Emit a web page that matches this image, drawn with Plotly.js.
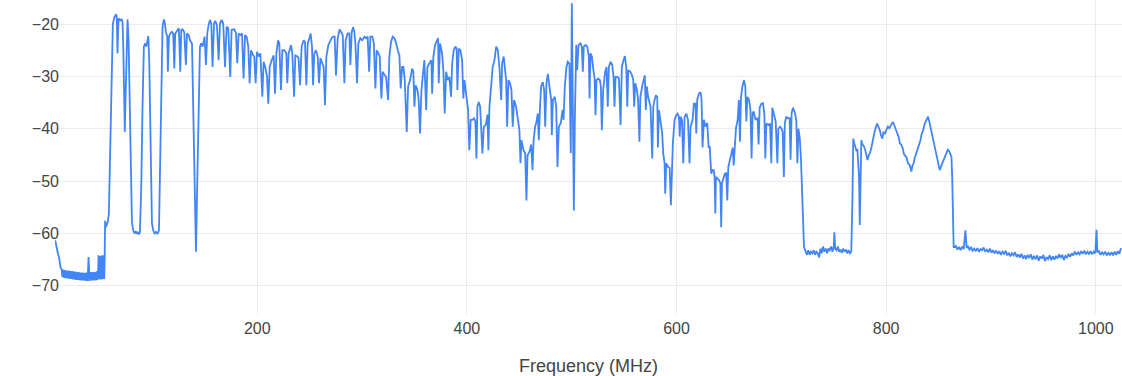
<!DOCTYPE html>
<html>
<head>
<meta charset="utf-8">
<script src="https://cdn.plot.ly/plotly-3.0.1.min.js"></script>
<style>html,body{margin:0;padding:0;background:#fff;}#chart{width:1122px;height:376px;}</style>
</head>
<body>
<div id="chart"></div>
<script>
// Spectrum readings: [frequency MHz, power dB]
const noiseFloorLow = [
[7.2,-61.3],[8.4,-62.9],[9.7,-63.8],[11.0,-64.7],[12.2,-66.4],[13.5,-67.0],
[14.0,-68.3],[14.5,-66.9],[15.0,-68.4],[15.5,-67.0],[16.0,-68.5],[16.5,-67.0],[17.0,-68.4],[17.5,-67.1],
[18.0,-68.6],[18.5,-67.1],[19.0,-68.5],[19.5,-67.2],[20.0,-68.6],[20.5,-67.1],[21.0,-68.7],[21.5,-67.2],
[22.0,-68.6],[22.5,-67.3],[23.0,-68.7],[23.5,-67.2],[24.0,-68.8],[24.5,-67.3],[25.0,-68.7],[25.5,-67.4],
[26.0,-68.8],[26.5,-67.3],[27.0,-68.9],[27.5,-67.4],[28.0,-68.8],[28.5,-67.5],[29.0,-68.9],[29.5,-67.4],
[30.0,-68.9],[30.5,-67.5],[31.0,-69.0],[31.5,-67.5],[32.0,-68.9],[32.5,-67.6],[33.0,-69.0],[33.5,-67.5],
[34.0,-69.0],[34.5,-67.6],[35.0,-68.9],[35.5,-67.6],[36.0,-69.1],[36.5,-67.5],[37.0,-69.0],[37.5,-67.6],
[38.0,-69.1],[38.5,-67.2],[39.0,-64.5],[39.5,-66.8],[40.0,-69.1],[40.5,-67.4],[41.0,-68.9],[41.5,-67.5],
[42.0,-69.0],[42.5,-67.4],[43.0,-68.9],[43.5,-67.5],[44.0,-69.0],[44.5,-67.4],[45.0,-68.9],[45.5,-67.5],
[46.0,-69.0],[46.5,-67.3],[47.0,-68.9],[47.5,-67.2],[48.0,-68.8],[48.5,-64.2],[49.0,-68.7],[49.5,-64.4],
[50.0,-68.8],[50.5,-64.3],[51.0,-68.7],[51.5,-64.2],[52.0,-68.8],[52.5,-64.3],[53.0,-68.6],[53.5,-64.2],
[54.0,-68.7],[54.4,-64.5]
];
const vhfBand = [
[54.8,-57.6],[55.5,-58.8],[56.5,-58.3],[57.4,-57.8],[58.4,-56.2],[59.7,-44.1],[60.9,-28.2],[62.2,-19.9],
[63.8,-18.6],[65.4,-18.1],[66.0,-18.9],[66.6,-25.6],[67.6,-18.9],[69.2,-19.3],[70.5,-19.1],[71.4,-19.5],
[72.1,-24.0],[72.7,-34.5],[73.2,-38.5],[73.6,-40.6],[74.1,-36.0],[74.6,-33.0],[75.2,-28.2],[76.2,-19.1],
[77.2,-23.1],[78.1,-34.5],[79.1,-47.3],[80.4,-57.8],[81.6,-59.4],[82.9,-60.0],[84.0,-59.6],[85.0,-60.1],
[86.0,-59.7],[87.0,-60.2],[88.0,-59.8],[89.3,-51.1],[90.5,-35.8],[91.8,-24.3],[93.1,-23.7],[94.0,-24.3],
[95.0,-23.4],[96.0,-22.3],[96.9,-26.9],[98.2,-42.2],[99.5,-58.1],[100.7,-59.4],[102.0,-60.0],[103.3,-59.7],
[104.8,-60.1],[106.2,-59.4],[107.1,-47.3],[108.4,-31.3],[109.6,-20.5],[110.9,-19.1],[111.9,-19.9],[112.8,-21.5],
[114.1,-22.4],[114.7,-29.1],[115.7,-22.4],[117.0,-21.8],[118.6,-21.5],[119.8,-21.8],[120.8,-28.5],[121.7,-21.8],
[123.6,-21.1],[125.2,-20.8],[126.5,-29.1],[127.5,-21.1],[128.7,-21.0],[130.3,-21.5],[131.9,-27.8],[132.9,-21.8],
[134.5,-22.1],[135.8,-23.1],[137.7,-23.7],[138.9,-34.5],[140.2,-50.5],[141.5,-63.5],[142.7,-50.5],[144.0,-34.5],
[145.3,-24.3],[146.5,-23.7],[147.8,-24.3],[148.7,-23.4],[149.7,-22.4],[151.0,-27.8],[152.3,-21.8],[153.5,-20.2],
[154.9,-19.2],[156.1,-19.9],[157.3,-28.2],[158.7,-19.9],[159.9,-19.4],[161.5,-20.2],[163.1,-26.9],[164.4,-19.9],
[165.9,-19.2],[167.5,-19.9],[169.2,-28.2],[170.7,-20.5],[172.3,-20.8],[174.2,-30.1],[175.5,-21.1],[178.1,-21.0],
[179.7,-21.8],[180.9,-27.5],[182.2,-21.8],[183.8,-22.1],[185.4,-21.8],[186.9,-30.4],[188.3,-22.1],[189.8,-22.4],
[191.4,-24.3],[192.7,-31.3],[194.0,-25.0],[195.9,-25.9],[197.1,-26.2],[198.4,-31.3],[199.7,-25.3],[201.2,-26.2],
[202.9,-25.6],[204.8,-33.9],[206.0,-27.2],[207.6,-28.2],[209.3,-30.1],[210.5,-35.2],[211.8,-28.2],[213.7,-26.9],
[215.6,-26.0],[216.9,-33.3],[218.2,-25.6],[219.8,-23.1],[221.0,-23.7],[222.6,-32.6],[223.9,-25.0],[225.8,-25.0],
[227.7,-25.6],[228.6,-31.3],[229.9,-25.6],[232.2,-24.0],[233.4,-25.6],[235.1,-33.9],[236.3,-26.0],[238.2,-26.2],
[239.4,-26.5],[240.8,-31.7],[242.3,-24.3],[244.2,-23.1],[245.5,-23.4],[246.8,-31.7],[248.1,-23.7],[249.7,-22.7],
[250.9,-21.8],[252.2,-24.3],[253.2,-31.7],[254.4,-25.6],[256.0,-25.0],[257.6,-26.2],[258.9,-31.3],[260.2,-26.5],
[262.1,-27.5],[263.3,-28.2],[264.6,-35.5],[265.9,-26.2],[267.8,-24.0],[269.7,-23.1],[270.9,-22.7],[272.3,-22.4],
[273.8,-22.4],[275.1,-29.8],[276.7,-22.7],[278.6,-21.0],[280.2,-21.8],[281.5,-22.1],[283.1,-31.3],[284.3,-23.1],
[286.2,-21.8],[287.8,-21.8],[288.8,-27.8],[290.1,-21.5],[291.4,-20.6],[292.6,-21.5],[293.6,-23.7],[295.2,-31.3],
[296.4,-23.7],[298.3,-22.7],[300.1,-23.1],[302.2,-22.4],[303.7,-22.7],[305.3,-22.4],[306.7,-29.1],[307.9,-22.4],
[309.8,-22.4],[311.2,-23.7],[312.7,-32.3],[313.9,-25.0],[315.5,-25.6],[316.8,-26.2],[318.4,-34.2],[319.6,-29.1],
[321.3,-29.7],[322.9,-30.1],[324.8,-34.5],[326.0,-26.2],[327.6,-23.4],[329.2,-22.4],[330.8,-22.7],[332.1,-23.4],
[334.0,-25.0],[335.6,-26.0],[336.8,-32.3],[338.2,-28.2],[339.4,-28.2],[340.7,-30.7]
];
const uhfBand = [
[342.6,-40.6],[343.9,-31.9],[345.8,-30.7],[347.7,-28.5],[348.9,-29.1],[349.9,-35.8],[351.1,-31.7],[352.8,-32.6],
[354.0,-34.5],[355.3,-40.9],[356.6,-32.6],[357.8,-30.1],[359.4,-26.9],[361.1,-36.4],[362.3,-28.2],[364.2,-27.5],
[366.1,-26.9],[366.8,-33.3],[368.0,-26.2],[369.7,-24.0],[371.2,-23.1],[372.5,-22.7],[373.1,-31.3],[374.4,-23.7],
[376.3,-25.6],[377.6,-29.1],[378.8,-37.1],[380.2,-29.1],[381.7,-30.7],[383.3,-30.1],[384.9,-33.9],[385.9,-27.5],
[387.4,-25.0],[389.0,-24.3],[390.2,-24.7],[390.9,-32.6],[392.2,-24.7],[393.8,-25.0],[395.4,-26.9],[396.6,-34.2],
[397.6,-30.7],[399.2,-33.3],[401.1,-36.4],[402.3,-44.1],[403.6,-38.3],[405.2,-38.3],[406.8,-38.0],[408.1,-38.6],
[409.1,-45.7],[410.0,-35.8],[411.3,-34.9],[412.6,-35.8],[413.6,-40.3],[414.8,-44.7],[416.1,-39.6],[418.0,-39.3],
[419.6,-37.3],[420.5,-44.1],[421.5,-35.8],[423.1,-31.3],[424.6,-28.2],[426.3,-26.9],[427.9,-24.3],[429.5,-25.0],
[431.0,-28.2],[432.7,-34.5],[433.6,-27.5],[435.1,-26.2],[436.4,-28.2],[437.4,-30.7],[438.4,-39.6],[439.6,-30.7],
[441.2,-31.3],[442.5,-32.6],[443.7,-39.6],[445.0,-34.5],[446.9,-35.8],[448.5,-38.3],[450.1,-40.3],[451.1,-46.6],
[452.0,-42.2],[454.0,-44.1],[455.6,-44.7],[456.8,-53.7],[457.8,-45.1],[459.7,-44.4],[461.3,-43.0],[462.6,-47.9],
[463.6,-42.2],[465.1,-39.6],[466.4,-38.6],[467.6,-37.1],[468.6,-42.2],[469.6,-36.4],[470.8,-31.9],[472.4,-31.1],
[473.7,-32.6],[474.7,-39.6],[475.9,-31.3],[477.2,-29.5],[478.5,-31.5],[480.4,-34.5],[481.0,-41.2],[482.0,-34.5],
[483.8,-33.9],[485.2,-35.8],[486.4,-47.3],[487.7,-39.6],[489.6,-38.9],[491.2,-36.4],[492.2,-38.3],[493.4,-31.9],
[495.0,-28.2],[496.2,-27.2],[497.8,-27.5],[499.1,-44.7],[500.1,-16.0],[500.8,-38.5],[502.0,-55.6],[503.0,-38.0],
[504.3,-24.0],[505.2,-28.8],[506.5,-24.0],[508.4,-23.7],[509.6,-24.3],[510.6,-29.1],[511.5,-24.3],[513.2,-24.0],
[514.8,-24.3],[516.3,-26.2],[517.0,-34.2],[517.9,-25.6],[519.2,-26.2],[520.5,-28.5],[521.8,-30.4],[522.7,-37.4],
[523.6,-30.7],[525.2,-30.4],[526.8,-30.7],[527.8,-31.9],[528.7,-40.3],[530.0,-32.6],[531.9,-29.1],[533.2,-28.2],
[534.4,-35.8],[535.4,-28.2],[537.0,-27.2],[538.6,-27.8],[539.9,-30.1],[540.8,-35.8],[541.8,-30.1],[543.4,-30.1],
[545.0,-30.4],[546.6,-39.3],[547.8,-28.2],[549.4,-26.9],[550.7,-26.1],[552.0,-28.2],[553.0,-35.8],[553.9,-28.8],
[555.8,-29.1],[557.4,-29.7],[558.7,-30.7],[559.6,-35.8],[560.6,-31.3],[562.2,-32.6],[563.3,-34.5],[564.6,-42.5],
[565.5,-33.9],[567.2,-31.9],[568.8,-30.1],[569.7,-29.8],[570.7,-36.4],[571.6,-31.9],[572.9,-33.9],[575.2,-35.8],
[576.8,-45.7],[577.8,-35.8],[579.0,-34.5],[580.3,-33.6],[581.6,-33.9],[582.2,-43.6],[583.2,-36.4],[584.7,-38.3],
[586.3,-40.9],[587.3,-44.7],[588.6,-46.6],[589.2,-52.4],[590.2,-46.6],[591.8,-47.3],[593.4,-47.5],[594.6,-54.6],
[595.5,-47.3],[596.5,-42.8],[598.1,-38.3],[599.7,-37.4],[601.0,-37.1],[602.3,-37.7],[603.0,-41.5],[603.9,-37.7],
[605.2,-38.3],[606.4,-46.6],[607.7,-37.7],[609.3,-37.1],[610.9,-38.3],[612.4,-46.6],[613.4,-39.6],[615.3,-38.3],
[616.5,-35.2],[618.1,-35.2],[618.8,-40.9],[619.7,-34.5],[621.3,-33.3],[622.9,-33.0],[623.9,-34.5],[624.8,-43.6],
[626.1,-38.3],[627.7,-39.6],[629.3,-38.9],[630.6,-43.6],[631.6,-43.3],[632.5,-45.7],[633.1,-48.6],[634.1,-47.9],
[635.4,-47.9],[636.3,-49.2],[637.0,-56.2],[637.6,-49.2],[638.9,-49.5],[640.5,-49.8],[641.8,-50.4],[642.6,-58.8],
[643.3,-50.4],[644.8,-49.2],[646.1,-48.6],[647.4,-48.5],[648.4,-53.7],[649.4,-47.3],[651.0,-46.0],[652.3,-45.1],
[653.6,-43.6],[654.5,-47.0],[655.5,-43.6],[656.7,-39.9],[658.3,-38.3],[659.5,-34.5],[660.5,-42.5],[661.5,-33.9],
[662.8,-32.0],[664.3,-30.7],[665.6,-31.9],[666.6,-38.6],[667.6,-33.9],[669.2,-34.5],[670.5,-36.4],[671.6,-45.7],
[672.6,-37.0],[673.5,-36.7],[675.4,-38.3],[677.3,-37.9],[678.3,-43.0],[679.3,-36.0],[680.9,-35.2],[682.5,-35.1],
[683.8,-37.3],[684.7,-45.7],[685.7,-39.0],[687.6,-39.3],[689.2,-39.0],[690.4,-46.6],[691.4,-36.0],[693.0,-37.3],
[694.6,-38.6],[696.2,-46.6],[697.1,-40.0],[698.7,-39.6],[700.3,-40.0],[701.3,-40.7],[702.4,-49.2],[703.3,-38.9],
[704.6,-37.7],[706.2,-38.0],[707.9,-38.0],[708.8,-45.9],[709.8,-37.0],[711.1,-36.0],[713.0,-37.0],[714.3,-38.6],
[715.3,-46.6],[716.3,-40.0],[717.6,-41.9],[718.7,-45.7],[719.6,-53.5],[720.6,-56.8],[721.6,-62.6],[722.9,-63.5]
];
const gapFloor = [
[724.4,-64.1],[725.7,-63.2],[727.0,-64.1],[728.3,-63.5],[729.6,-63.8],[730.9,-63.2],[732.2,-64.1],[733.4,-63.5],
[734.7,-63.8],[736.0,-64.6],[737.3,-62.9],[738.5,-63.8],[739.8,-62.5],[741.1,-63.5],[742.4,-62.9],[743.7,-63.8],
[744.9,-62.9],[746.2,-63.2],[747.5,-62.5],[748.8,-63.5],[750.0,-62.5],[750.6,-59.8],[751.3,-62.9],[752.6,-63.2],
[753.9,-62.5],[755.2,-63.5],[756.4,-63.1],[757.7,-63.7],[759.0,-62.9],[760.3,-63.5],[761.6,-63.1],[762.8,-63.8],
[764.1,-63.2],[765.4,-63.8],[766.7,-63.5]
];
const band800 = [
[767.8,-53.7],[768.6,-41.9],[769.6,-42.8],[770.6,-43.6],[771.5,-44.1],[772.5,-43.9],[773.5,-46.6],[774.1,-49.0],
[774.8,-58.4],[775.5,-50.0],[776.3,-42.2],[777.4,-43.0],[778.6,-43.3],[779.9,-44.0],[781.1,-45.5],[782.2,-46.0],
[783.5,-45.0],[784.8,-44.5],[786.1,-43.4],[787.3,-42.0],[788.6,-40.9],[790.0,-39.8],[791.3,-39.0],[792.5,-39.6],
[793.8,-40.2],[795.0,-41.2],[796.3,-41.9],[797.4,-40.6],[798.9,-40.9],[800.2,-40.2],[801.7,-39.6],[803.0,-39.9],
[804.2,-39.3],[805.5,-39.0],[806.6,-38.7],[808.0,-39.6],[809.3,-40.3],[810.6,-40.9],[811.8,-41.5],[813.1,-42.8],
[814.4,-43.0],[815.9,-43.8],[817.0,-44.9],[818.3,-45.3],[819.5,-45.5],[820.8,-46.6],[822.3,-46.9],[823.2,-47.5],
[824.0,-48.2],[825.0,-47.1],[826.2,-46.6],[827.3,-45.6],[828.8,-44.7],[830.4,-43.4],[831.5,-43.0],[832.7,-42.2],
[833.6,-41.2],[835.3,-40.3],[836.8,-39.0],[838.0,-38.6],[839.9,-37.7],[841.0,-38.5],[842.2,-39.6],[843.5,-40.9],
[844.7,-42.1],[846.3,-43.6],[848.0,-45.3],[849.6,-46.6],[851.1,-47.9],[852.7,-47.0],[854.3,-46.2],[855.9,-45.3],
[857.5,-44.5],[858.8,-44.0],[860.0,-44.2],[861.2,-44.7],[862.3,-45.4],[863.0,-49.3],[863.7,-56.0],[864.4,-62.6]
];
const highFloor = [
[865.4,-62.6],[866.5,-62.4],[868.0,-63.1],[869.5,-62.6],[871.0,-63.2],[872.5,-62.5],[874.0,-63.0],[875.6,-59.4],
[876.8,-62.8],[878.0,-62.4],[879.5,-63.1],[881.0,-62.7],[882.5,-63.3],[884.0,-62.9],[885.5,-63.4],[887.0,-62.8],
[888.5,-63.5],[890.0,-63.0],[891.5,-63.2],[893.0,-62.7],[894.5,-63.5],[896.0,-63.1],[897.5,-63.6],[899.0,-62.9],
[900.5,-63.7],[902.0,-63.2],[903.5,-63.8],[905.0,-63.3],[906.5,-63.9],[908.0,-63.4],[909.5,-64.1],[911.0,-63.5],
[912.5,-63.9],[914.0,-63.3],[915.5,-64.2],[917.0,-63.7],[918.5,-64.4],[920.0,-63.8],[921.5,-64.2],[923.0,-63.6],
[924.5,-64.5],[926.0,-64.0],[927.5,-64.6],[929.0,-63.9],[930.5,-64.8],[932.0,-64.2],[933.5,-64.9],[935.0,-64.1],
[936.5,-64.7],[938.0,-64.0],[939.5,-65.0],[941.0,-64.3],[942.5,-64.9],[944.0,-64.2],[945.5,-65.2],[947.0,-64.4],
[948.5,-64.8],[950.0,-64.1],[951.5,-65.3],[953.0,-64.5],[954.5,-64.9],[956.0,-64.2],[957.5,-65.1],[959.0,-64.4],
[960.5,-65.0],[962.0,-64.3],[963.5,-64.8],[965.0,-64.0],[966.5,-64.7],[968.0,-64.1],[969.5,-65.1],[971.0,-64.3],
[972.5,-64.6],[974.0,-63.9],[975.5,-64.5],[977.0,-63.8],[978.5,-64.2],[980.0,-63.5],[981.5,-64.1],[983.0,-63.6],
[984.5,-64.0],[986.0,-63.4],[987.5,-63.9],[989.0,-63.3],[990.5,-64.0],[992.0,-63.5],[993.5,-63.9],[995.0,-63.4],
[996.5,-64.0],[998.0,-63.5],[999.5,-63.8],[1000.7,-59.3],[1001.5,-63.6],[1003.0,-63.4],[1004.5,-64.1],[1006.0,-63.6],
[1007.5,-64.0],[1009.0,-63.5],[1010.5,-64.2],[1012.0,-63.7],[1013.5,-64.1],[1015.0,-63.6],[1016.5,-64.2],[1018.0,-63.5],
[1019.5,-64.1],[1021.0,-63.4],[1022.5,-63.9],[1024.0,-62.8]
];
const yTickValues = [-70, -60, -50, -40, -30, -20];
const xTickValues = [200, 400, 600, 800, 1000];

const segments = [noiseFloorLow, vhfBand, uhfBand, gapFloor, band800, highFloor];
const freq = [], power = [];
segments.forEach(s => s.forEach(p => { freq.push(p[0]); power.push(p[1]); }));

const trace = {
  x: freq, y: power, type: 'scatter', mode: 'lines',
  line: {color: '#4285f4', width: 1.8},
  hoverinfo: 'x+y'
};
const fam = 'Liberation Sans, Arial, Helvetica, sans-serif';
const tickFont = {family: fam, size: 16, color: '#444'};
const titleFont = {family: fam, size: 18, color: '#444'};
const layout = {
  width: 1122, height: 376,
  margin: {l: 55, r: 0, t: 0, b: 62},
  paper_bgcolor: '#fff', plot_bgcolor: '#fff',
  showlegend: false,
  font: tickFont,
  xaxis: {
    range: [7, 1025], tickvals: xTickValues, showgrid: true, gridcolor: '#ebebeb', gridwidth: 1,
    zeroline: false, showline: false, ticks: '', tickfont: tickFont, ticklabelstandoff: 3,
    automargin: false,
    title: {text: 'Frequency (MHz)', font: titleFont, standoff: 24}
  },
  yaxis: {
    range: [-75.4, -15.4], tickvals: yTickValues, showgrid: true, gridcolor: '#ebebeb', gridwidth: 1,
    zeroline: false, showline: false, ticks: '', tickfont: tickFont, ticklabelstandoff: -5,
    automargin: false
  }
};
Plotly.newPlot('chart', [trace], layout, {displayModeBar: false, staticPlot: true});
</script>
</body>
</html>
